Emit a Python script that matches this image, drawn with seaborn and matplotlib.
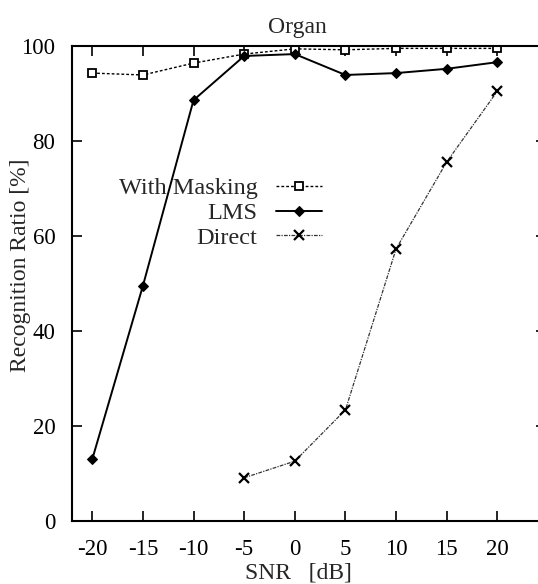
import matplotlib
matplotlib.use("Agg")
import matplotlib.pyplot as plt
import seaborn as sns
import pandas as pd

snr = [-20, -15, -10, -5, 0, 5, 10, 15, 20]
masking = [94.3, 93.9, 96.4, 98.3, 99.4, 99.2, 99.5, 99.5, 99.5]
lms = [13.0, 49.5, 88.6, 97.9, 98.3, 93.9, 94.3, 95.2, 96.6]
direct_snr = [-5, 0, 5, 10, 15, 20]
direct = [9.1, 12.6, 23.4, 57.3, 75.6, 90.5]
xticks = [-20, -15, -10, -5, 0, 5, 10, 15, 20]
yticks = [0, 20, 40, 60, 80, 100]

sns.set_theme(style="ticks")
plt.rcParams['font.family'] = ['Liberation Serif', 'DejaVu Serif']

fig = plt.figure(figsize=(5.38, 5.84), dpi=100)
ax = fig.add_axes([72/538, 1-521/584, 474/538, 475/584])

df_m = pd.DataFrame({"snr": snr, "val": masking})
df_l = pd.DataFrame({"snr": snr, "val": lms})
df_d = pd.DataFrame({"snr": direct_snr, "val": direct})

sns.lineplot(data=df_m, x="snr", y="val", ax=ax, color="black", lw=1.0,
             linestyle=(0, (2, 1.5)), marker="s", markersize=5.5,
             markerfacecolor="white", markeredgecolor="black", markeredgewidth=1.3,
             label="With Masking")
sns.lineplot(data=df_l, x="snr", y="val", ax=ax, color="black", lw=1.4,
             linestyle="-", marker="D", markersize=5,
             markerfacecolor="black", markeredgecolor="black",
             label="LMS")
sns.lineplot(data=df_d, x="snr", y="val", ax=ax, color="#333333", lw=0.9,
             linestyle=(0, (3, 1, 1, 1)), marker="x", markersize=6.5,
             markeredgewidth=1.6, markeredgecolor="black",
             label="Direct")

ax.set_xlim(-22, 24.8)
ax.set_ylim(0, 100)
ax.set_xticks(xticks)
ax.set_yticks(yticks)
ax.set_xticklabels([str(t) for t in xticks])
ax.tick_params(direction="in", length=7, width=1.2, top=True, right=True,
               labelsize=16.5, colors="black")
ax.tick_params(axis="x", pad=13)
ax.tick_params(axis="y", pad=12)
for s in ax.spines.values():
    s.set_linewidth(1.5)
    s.set_color("black")

ax.set_title("Organ", fontsize=17, pad=9, x=(297-72)/474)
ax.set_xlabel("SNR   [dB]", fontsize=17)
ax.xaxis.set_label_coords((298-72)/474, -(563-521)/475)
ax.xaxis.label.set_va("top")
ax.set_ylabel("Recognition Ratio [%]", fontsize=17)
ax.yaxis.set_label_coords((31-72)/474, (521-265)/475)

leg = ax.legend(loc="center right", bbox_to_anchor=(322/538, 1-213/584),
                bbox_transform=fig.transFigure, frameon=False,
                markerfirst=False, fontsize=17.5, handlelength=1.9,
                labelspacing=0.12, handletextpad=0.75, borderpad=0,
                borderaxespad=0)

fig.savefig("out.png", dpi=100)
